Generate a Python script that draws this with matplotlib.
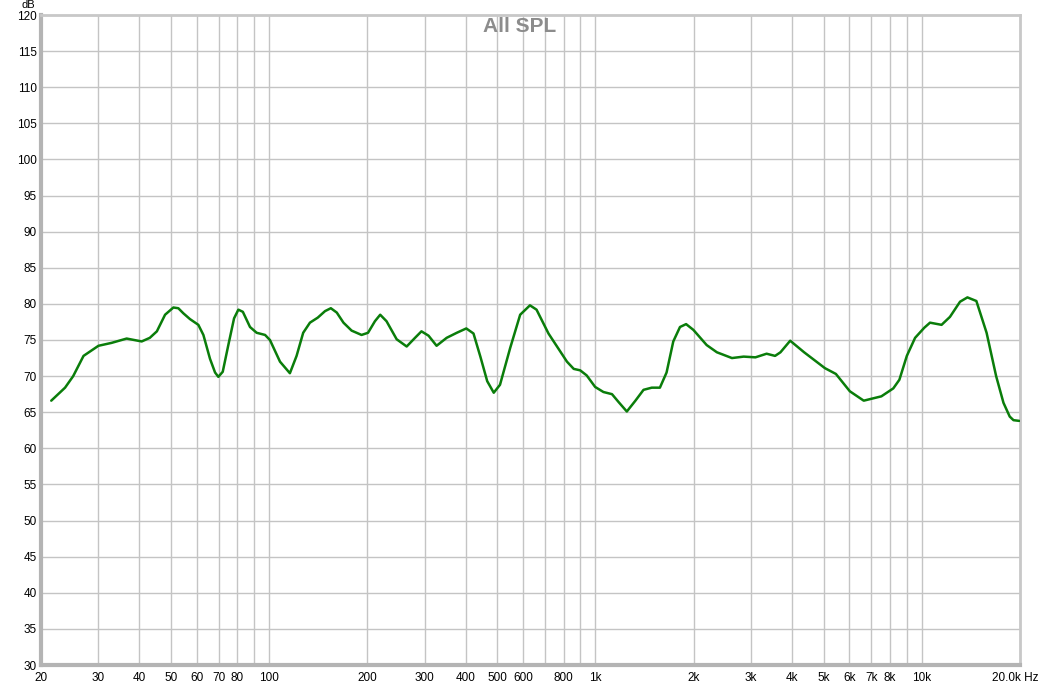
import numpy as np
import matplotlib
matplotlib.use("Agg")
import matplotlib.pyplot as plt

plt.rcParams['font.family'] = ['Liberation Sans', 'DejaVu Sans']

# frequency response (Hz, dB)
freq = [21.5, 23.7, 25.1, 27.0, 30.0, 32.9, 36.6, 40.7, 43.1, 45.3,
        48.0, 50.9, 52.7, 54.6, 57.2, 60.7, 62.9, 65.9, 68.3, 69.9,
        72.1, 75.0, 78.1, 80.5, 83.1, 87.4, 91.6, 97.2, 100.6, 108,
        115.8, 121.4, 127.2, 133.4, 141, 148.4, 154.6, 161.2, 169, 179,
        192, 201, 211, 219, 229, 246, 264, 280, 293, 308,
        326, 350, 376, 402, 423, 444, 466, 488, 510, 548,
        588, 630, 660, 718, 818, 858, 898, 940, 998, 1058,
        1124, 1178, 1248, 1326, 1404, 1488, 1576, 1652, 1732, 1816,
        1896, 1996, 2192, 2356, 2620, 2846, 3092, 3346, 3552, 3690,
        3952, 4360, 5050, 5456, 6020, 6640, 7520, 8180, 8540, 9000,
        9540, 10180, 10600, 11500, 12200, 13100, 13800, 14700, 15800, 16900,
        17800, 18600, 19100, 19900]
spl = [66.6, 68.4, 70.0, 72.8, 74.2, 74.6, 75.2, 74.8, 75.3, 76.2,
       78.5, 79.5, 79.4, 78.7, 77.9, 77.1, 75.7, 72.4, 70.5, 69.9,
       70.6, 74.3, 78.0, 79.2, 78.9, 76.8, 76.0, 75.7, 75.0, 72.0,
       70.4, 72.8, 76.0, 77.4, 78.1, 79.0, 79.4, 78.8, 77.4, 76.3,
       75.7, 76.0, 77.6, 78.5, 77.6, 75.1, 74.1, 75.3, 76.2, 75.6,
       74.2, 75.3, 76.0, 76.6, 75.9, 72.7, 69.3, 67.7, 68.8, 73.9,
       78.5, 79.8, 79.2, 75.9, 72.0, 71.0, 70.8, 70.1, 68.5, 67.8,
       67.5, 66.4, 65.1, 66.6, 68.1, 68.4, 68.4, 70.5, 74.8, 76.8,
       77.2, 76.4, 74.3, 73.3, 72.5, 72.7, 72.6, 73.1, 72.8, 73.3,
       74.9, 73.3, 71.1, 70.3, 67.9, 66.6, 67.2, 68.3, 69.5, 72.8,
       75.3, 76.7, 77.4, 77.1, 78.2, 80.3, 80.9, 80.4, 76.0, 70.0,
       66.3, 64.4, 63.9, 63.8]

xtick_vals = [20, 30, 40, 50, 60, 70, 80, 100, 200, 300, 400, 500, 600, 800,
              1000, 2000, 3000, 4000, 5000, 6000, 7000, 8000, 10000]
xtick_labels = ['20', '30', '40', '50', '60', '70', '80', '100', '200', '300',
                '400', '500', '600', '800', '1k', '2k', '3k', '4k', '5k', '6k',
                '7k', '8k', '10k']
ytick_vals = list(range(30, 121, 5))

fig = plt.figure(figsize=(10.4, 6.86), dpi=100)
ax = fig.add_axes([41 / 1040, 1 - 665 / 686, 979 / 1040, 650 / 686])

grid_c = '#c4c4c4'
for dec in [10, 100, 1000, 10000]:
    for m in range(1, 10):
        f = dec * m
        if 20 < f < 20000:
            ax.axvline(f, color=grid_c, lw=1.0, zorder=1)
for v in ytick_vals[1:-1]:
    ax.axhline(v, color=grid_c, lw=1.0, zorder=1)

ax.plot(freq, spl, color='#0a7d0a', lw=1.8, zorder=3,
        solid_joinstyle='round', solid_capstyle='round')

ax.set_xscale('log')
ax.set_xlim(20, 20000)
ax.set_ylim(30, 120)
ax.set_xticks(xtick_vals)
ax.set_xticklabels(xtick_labels)
ax.xaxis.set_minor_locator(matplotlib.ticker.NullLocator())
ax.set_yticks(ytick_vals)
ax.set_yticklabels([str(v) for v in ytick_vals])
ax.tick_params(axis='both', length=0, labelsize=8.5, colors='black')
ax.tick_params(axis='x', pad=5)
ax.tick_params(axis='y', pad=3)

for side in ['top', 'right']:
    ax.spines[side].set_color('#c8c8c8')
    ax.spines[side].set_linewidth(2)
for side in ['left', 'bottom']:
    ax.spines[side].set_color('#b4b4b4')
    ax.spines[side].set_linewidth(3)

ax.text(1.0 + 18 / 979, -0.0105, '20.0k Hz', transform=ax.transAxes,
        ha='right', va='top', fontsize=8.5)
fig.text(22 / 1040, 1.0, 'dB', ha='left', va='top', fontsize=8)
fig.text(0.5, 1 - 27 / 686, 'All SPL', ha='center', va='center',
         fontsize=15, fontweight='bold', color='#8c8c8c')

fig.savefig('out.png', dpi=100)
